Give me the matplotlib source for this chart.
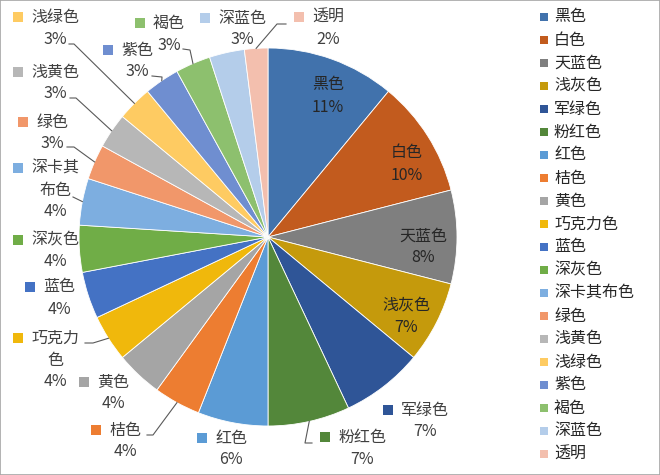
import matplotlib
matplotlib.use('Agg')
import matplotlib.pyplot as plt
from matplotlib.patches import Rectangle
import numpy as np

# 中文字体，缺字时退到DejaVu
plt.rcParams['font.family'] = ['Noto Sans CJK SC', 'DejaVu Sans']

# 数据：颜色名称和占比(%)
names = ['黑色', '白色', '天蓝色', '浅灰色', '军绿色', '粉红色', '红色', '桔色', '黄色', '巧克力色',
         '蓝色', '深灰色', '深卡其布色', '绿色', '浅黄色', '浅绿色', '紫色', '褐色', '深蓝色', '透明']
percents = [11, 10, 8, 7, 7, 7, 6, 4, 4, 4, 4, 4, 4, 3, 3, 3, 3, 3, 3, 2]
colors = ['#4172AC', '#C25B1E', '#7F7F7F', '#C59A0C', '#2F5597', '#53873A',
          '#5B9BD5', '#ED7D31', '#A5A5A5', '#F0B80C', '#4472C4', '#70AD47',
          '#7DAEE0', '#F1976A', '#B7B7B7', '#FECB62', '#6F8ED0', '#8DC06E',
          '#B4CDEA', '#F3BFAE']

# 版面（像素，左上角为原点）
W, H = 660, 475
CX, CY, R = 268, 237, 189
FS = 11.5
TXT = '#404040'

# 扇区内标签的中心
inside_pos = {'黑色': (328, 96), '白色': (407, 164), '天蓝色': (423, 247), '浅灰色': (406, 317)}
# 外部标签第一行（色块+名称）的中心位置
label_pos = {
    '军绿色': (416, 410), '粉红色': (353, 437), '红色': (222, 438), '桔色': (116, 430),
    '黄色': (104, 382), '巧克力色': (46, 338), '蓝色': (50, 287), '深灰色': (46, 240),
    '深卡其布色': (46, 168), '绿色': (43, 122), '浅黄色': (46, 72), '浅绿色': (46, 17),
    '紫色': (128, 50), '褐色': (160, 23), '深蓝色': (233, 18), '透明': (319, 17),
}
wrap = {'深卡其布色': ['深卡其', '布色'], '巧克力色': ['巧克力', '色']}
# 引导线的折点，最后一点接到扇区外沿
leaders = {
    '浅绿色': [(69, 44), (74, 44)],
    '褐色': [(183, 49), (190, 50)],
    '透明': [(286, 24), (277, 24)],
    '紫色': [(152, 76), (162, 77)],
    '浅黄色': [(70, 98), (76, 98)],
    '绿色': [(67, 147), (74, 147)],
    '深卡其布色': [(73, 197)],
    '巧克力色': [(85, 343), (93, 343)],
    '桔色': [(147, 435), (153, 435)],
    '粉红色': [(312, 443), (305, 443)],
}

fig = plt.figure(figsize=(W / 100, H / 100), dpi=100)
fig.patch.set_facecolor('white')
fig.add_artist(Rectangle((0, 0), 1, 1, transform=fig.transFigure, fill=False,
                         edgecolor='#A6A6A6', linewidth=1.2))

ax = fig.add_axes([(CX - R) / W, 1 - (CY + R) / H, 2 * R / W, 2 * R / H])
wedges, _ = ax.pie(percents, colors=colors, startangle=90, counterclock=False, radius=1,
                   wedgeprops=dict(edgecolor='white', linewidth=0.6))
ax.set_xlim(-1, 1)
ax.set_ylim(-1, 1)
ax.set_aspect('equal')
ax.axis('off')


def fpos(x, y):
    # 像素坐标 -> figure坐标
    return x / W, 1 - y / H


def put(x, y, s, **kw):
    kw.setdefault('color', TXT)
    kw.setdefault('fontsize', FS)
    kw.setdefault('fontweight', 'light')
    kw.setdefault('ha', 'center')
    kw.setdefault('va', 'center')
    fig.text(*fpos(x, y), s, **kw)


def square(x, y, c, size):
    fig.add_artist(Rectangle(fpos(x - size / 2, y + size / 2), size / W, size / H,
                             transform=fig.transFigure, facecolor=c, edgecolor='none'))


total = sum(percents)
cum = np.cumsum([0] + percents[:-1])
fs_px = FS * 100 / 72

for i, name in enumerate(names):
    theta = np.deg2rad(360 * (cum[i] + percents[i] / 2) / total)
    pct = f'{percents[i]}%'
    if name in inside_pos:
        x, y = inside_pos[name]
        put(x, y - 11, name, color='#262626')
        put(x, y + 11, pct, color='#262626')
        continue

    cx, y1 = label_pos[name]
    lines = wrap.get(name, [name])
    # 第一行：色块 + 名称
    tw = len(lines[0]) * fs_px
    left = cx - (10 + 8 + tw) / 2
    square(left + 5, y1, colors[i], 10)
    put(left + 18, y1, lines[0], ha='left')
    y = y1
    for extra in lines[1:]:
        y += 22
        put(cx + 9, y, extra)
    put(cx + 9, y + 22, pct)

    if name in leaders:
        pts = list(leaders[name])
        pts.append((CX + R * np.sin(theta), CY - R * np.cos(theta)))
        xs = [fpos(*p)[0] for p in pts]
        ys = [fpos(*p)[1] for p in pts]
        fig.add_artist(plt.Line2D(xs, ys, transform=fig.transFigure,
                                  color='#595959', linewidth=0.8))

# 右侧图例
for i, name in enumerate(names):
    y = 17 + 23 * i
    square(544, y, colors[i], 8)
    put(554, y, name, ha='left', color='#262626')

fig.savefig('out.png', dpi=100)
